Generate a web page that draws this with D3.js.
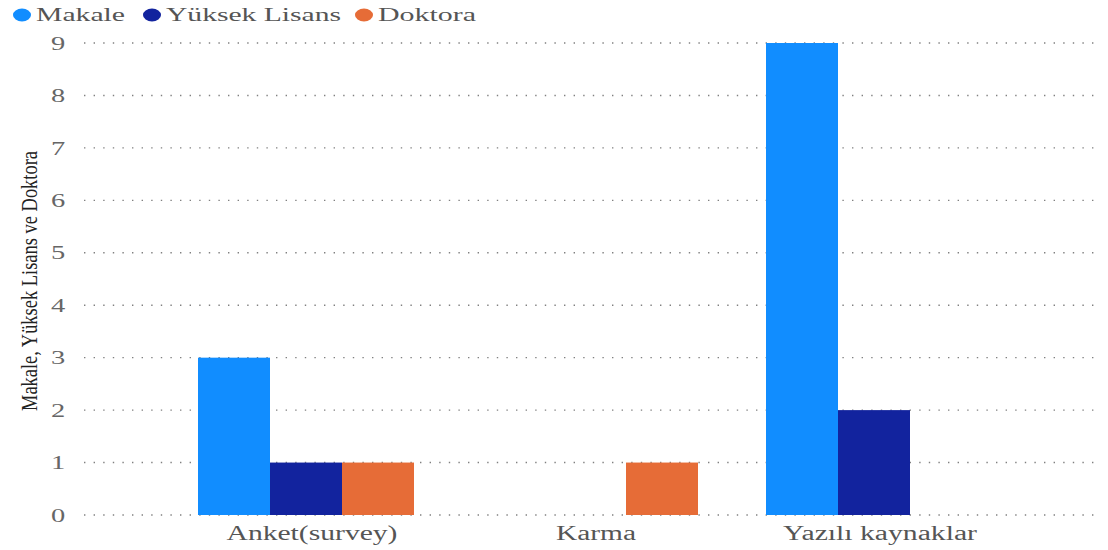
<!DOCTYPE html>
<html><head><meta charset="utf-8">
<script src="https://cdn.jsdelivr.net/npm/d3@7"></script>
<style>body{margin:0;background:#fff}svg{display:block}</style>
</head><body><svg id="c" width="1108" height="550"></svg>
<script>
const categories = ["Anket(survey)", "Karma", "Yazılı kaynaklar"];
const seriesNames = ["Makale", "Yüksek Lisans", "Doktora"];
const makale = [3, 0, 9];
const yuksekLisans = [1, 0, 2];
const doktora = [1, 1, 0];
const yTicks = [0,1,2,3,4,5,6,7,8,9];
const colors = ["#118DFF", "#12239E", "#E66C37"];

const seriesVals = [makale, yuksekLisans, doktora];
const svg = d3.select("#c");
const font = "'Liberation Serif', 'Times New Roman', serif";
const SX = 1.5; // horizontal stretch of text in the reference

const y = d3.scaleLinear().domain([0, 9]).range([515, 43]);
const pi = 68 / 284;
const x = d3.scaleBand().domain(categories).range([164, 1016]).paddingInner(pi).paddingOuter(pi / 2);
const xs = d3.scaleBand().domain(seriesNames).range([0, x.bandwidth()]);

// grid
svg.append("g").selectAll("line").data(yTicks).join("line")
  .attr("x1", 84).attr("x2", 1098)
  .attr("y1", d => y(d)).attr("y2", d => y(d))
  .attr("stroke", "#808080").attr("stroke-width", 1.4)
  .attr("stroke-dasharray", "1.4,8.2");

// y tick labels
svg.append("g").selectAll("g").data(yTicks).join("g")
  .attr("transform", d => `translate(58,${y(d)}) scale(${SX},1)`)
  .append("text").attr("dy", "0.35em")
  .attr("text-anchor", "middle").attr("font-family", font).attr("font-size", 19)
  .attr("fill", "#666").text(d => d);

// bars
const data = [];
categories.forEach((c, i) => seriesNames.forEach((s, j) => {
  if (seriesVals[j][i] > 0) data.push({c, s, v: seriesVals[j][i], col: colors[j]});
}));
svg.append("g").selectAll("rect").data(data).join("rect")
  .attr("x", d => x(d.c) + xs(d.s)).attr("width", xs.bandwidth())
  .attr("y", d => y(d.v)).attr("height", d => y(0) - y(d.v))
  .attr("fill", d => d.col);

// x labels
const xLabelW = [171, 80, 194];
svg.append("g").selectAll("text").data(categories).join("text")
  .attr("x", d => x(d) + x.bandwidth()/2 + 6).attr("y", 540)
  .attr("text-anchor", "middle").attr("font-family", font).attr("font-size", 20)
  .attr("textLength", (d, i) => xLabelW[i]).attr("lengthAdjust", "spacingAndGlyphs")
  .attr("fill", "#555").text(d => d);

// y title
svg.append("text")
  .attr("transform", "translate(37,281) rotate(-90)")
  .attr("text-anchor", "middle").attr("font-family", font).attr("font-size", 23)
  .attr("fill", "#222").attr("textLength", 260).attr("lengthAdjust", "spacingAndGlyphs")
  .text("Makale, Yüksek Lisans ve Doktora");

// legend
const legX = [22, 152, 364];
const legW = [89, 175, 98];
const lg = svg.append("g").selectAll("g").data(seriesNames).join("g")
  .attr("transform", (d, i) => `translate(${legX[i]},15)`);
lg.append("ellipse").attr("rx", 9).attr("ry", 6.5).attr("fill", (d, i) => colors[i]);
lg.append("text").attr("x", 14).attr("dy", "0.33em").attr("font-family", font)
  .attr("font-size", 19).attr("fill", "#555")
  .attr("textLength", (d, i) => legW[i]).attr("lengthAdjust", "spacingAndGlyphs")
  .text(d => d);
</script></body></html>
